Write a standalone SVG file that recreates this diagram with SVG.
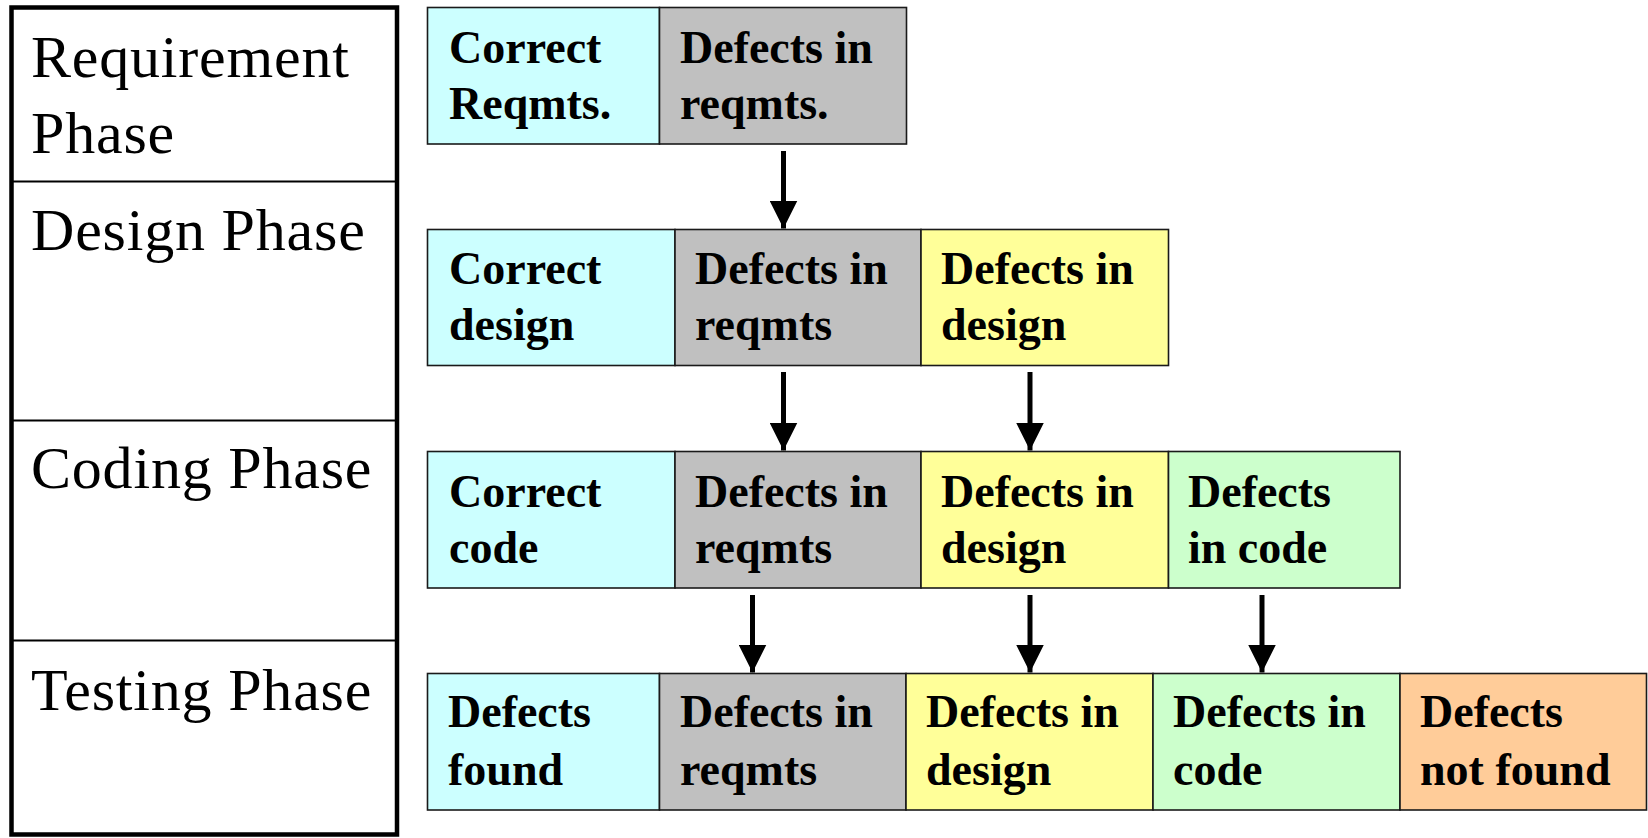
<svg xmlns="http://www.w3.org/2000/svg" width="1648" height="838" viewBox="0 0 1648 838">
<style>
.phase{font-family:"Liberation Serif","Times New Roman",serif;font-size:60px;letter-spacing:0.8px;fill:#000}
.lbl{font-family:"Liberation Serif","Times New Roman",serif;font-size:46px;font-weight:bold;fill:#000}
.box{stroke:#1a1a1a;stroke-width:1.6}
.c{fill:#CCFFFF}.g{fill:#C0C0C0}.y{fill:#FFFF99}.gr{fill:#CCFFCC}.o{fill:#FFCC99}
.conn line{stroke:#000;stroke-width:5}
</style>
<defs>
<marker id="ah" markerUnits="userSpaceOnUse" markerWidth="30" markerHeight="28" refX="28" refY="14" orient="auto">
<path d="M0,0 L28,14 L0,28 Z" fill="#000"/>
</marker>
</defs>
<rect width="1648" height="838" fill="#fff"/>
<g id="phases">
<rect x="11.5" y="7.5" width="385.5" height="827" fill="#fff" stroke="#000" stroke-width="4.5"/>
<line x1="11.5" y1="181.5" x2="397" y2="181.5" stroke="#000" stroke-width="2"/>
<line x1="11.5" y1="420.5" x2="397" y2="420.5" stroke="#000" stroke-width="2"/>
<line x1="11.5" y1="640.5" x2="397" y2="640.5" stroke="#000" stroke-width="2"/>
<text class="phase" x="31" y="77">Requirement</text>
<text class="phase" x="31" y="153">Phase</text>
<text class="phase" x="31" y="250">Design Phase</text>
<text class="phase" x="31" y="488">Coding Phase</text>
<text class="phase" x="31" y="710">Testing Phase</text>
</g>
<g id="row1">
<g id="r1c1"><rect class="box c" x="427.5" y="7.5" width="232" height="136.5"/><text class="lbl" x="449" y="63">Correct</text><text class="lbl" x="449" y="119">Reqmts.</text></g>
<g id="r1c2"><rect class="box g" x="659.5" y="7.5" width="247" height="136.5"/><text class="lbl" x="680" y="63">Defects in</text><text class="lbl" x="680" y="119">reqmts.</text></g>
</g>
<g id="row2">
<g id="r2c1"><rect class="box c" x="427.5" y="229.5" width="247.5" height="136"/><text class="lbl" x="449" y="284">Correct</text><text class="lbl" x="449" y="340">design</text></g>
<g id="r2c2"><rect class="box g" x="675" y="229.5" width="246" height="136"/><text class="lbl" x="695" y="284">Defects in</text><text class="lbl" x="695" y="340">reqmts</text></g>
<g id="r2c3"><rect class="box y" x="921" y="229.5" width="247.5" height="136"/><text class="lbl" x="941" y="284">Defects in</text><text class="lbl" x="941" y="340">design</text></g>
</g>
<g id="row3">
<g id="r3c1"><rect class="box c" x="427.5" y="451.5" width="247.5" height="136.5"/><text class="lbl" x="449" y="507">Correct</text><text class="lbl" x="449" y="563">code</text></g>
<g id="r3c2"><rect class="box g" x="675" y="451.5" width="246" height="136.5"/><text class="lbl" x="695" y="507">Defects in</text><text class="lbl" x="695" y="563">reqmts</text></g>
<g id="r3c3"><rect class="box y" x="921" y="451.5" width="247.5" height="136.5"/><text class="lbl" x="941" y="507">Defects in</text><text class="lbl" x="941" y="563">design</text></g>
<g id="r3c4"><rect class="box gr" x="1168.5" y="451.5" width="231.5" height="136.5"/><text class="lbl" x="1188" y="507">Defects</text><text class="lbl" x="1188" y="563">in code</text></g>
</g>
<g id="row4">
<g id="r4c1"><rect class="box c" x="427.5" y="673.5" width="232" height="136.5"/><text class="lbl" x="448" y="727">Defects</text><text class="lbl" x="448" y="785">found</text></g>
<g id="r4c2"><rect class="box g" x="659.5" y="673.5" width="246.5" height="136.5"/><text class="lbl" x="680" y="727">Defects in</text><text class="lbl" x="680" y="785">reqmts</text></g>
<g id="r4c3"><rect class="box y" x="906" y="673.5" width="247" height="136.5"/><text class="lbl" x="926" y="727">Defects in</text><text class="lbl" x="926" y="785">design</text></g>
<g id="r4c4"><rect class="box gr" x="1153" y="673.5" width="247" height="136.5"/><text class="lbl" x="1173" y="727">Defects in</text><text class="lbl" x="1173" y="785">code</text></g>
<g id="r4c5"><rect class="box o" x="1400" y="673.5" width="246.5" height="136.5"/><text class="lbl" x="1420" y="727">Defects</text><text class="lbl" x="1420" y="785">not found</text></g>
</g>
<g id="connectors" class="conn">
<line x1="783.5" y1="151" x2="783.5" y2="228.5" marker-end="url(#ah)"/>
<line x1="783.5" y1="372" x2="783.5" y2="450.5" marker-end="url(#ah)"/>
<line x1="1030" y1="372" x2="1030" y2="450.5" marker-end="url(#ah)"/>
<line x1="752.5" y1="595" x2="752.5" y2="672.5" marker-end="url(#ah)"/>
<line x1="1030" y1="595" x2="1030" y2="672.5" marker-end="url(#ah)"/>
<line x1="1262" y1="595" x2="1262" y2="672.5" marker-end="url(#ah)"/>
</g>
</svg>
